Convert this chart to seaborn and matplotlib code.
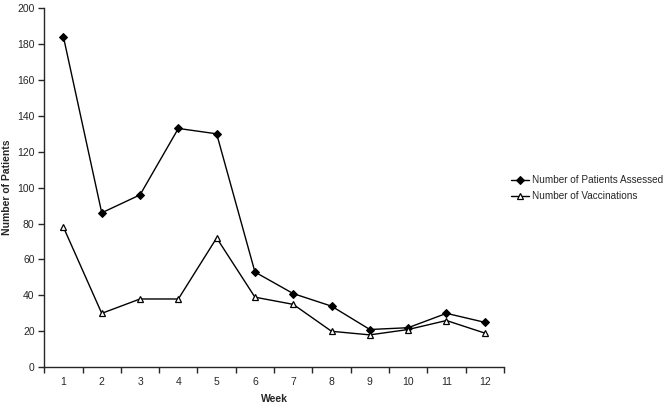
import seaborn as sns
import matplotlib.pyplot as plt
import numpy as np
import pandas as pd

weeks = list(range(1, 13))
patients_assessed = [184, 86, 96, 133, 130, 53, 41, 34, 21, 22, 30, 25]
vaccinations = [78, 30, 38, 38, 72, 39, 35, 20, 18, 21, 26, 19]


def create_line_plot():
    sns.set_style("ticks")
    plt.rcParams['font.family'] = ['Liberation Sans', 'DejaVu Sans']

    fig = plt.figure(figsize=(6.71, 4.08), dpi=100)
    ax = fig.add_axes([0.066, 0.100, 0.685, 0.880])

    sns.lineplot(x=weeks, y=patients_assessed, ax=ax, color="black", lw=1,
                 marker="D", markersize=4, markerfacecolor="black",
                 markeredgecolor="black", label="Number of Patients Assessed")
    sns.lineplot(x=weeks, y=vaccinations, ax=ax, color="black", lw=1,
                 marker="^", markersize=5, markerfacecolor="white",
                 markeredgecolor="black", markeredgewidth=0.9,
                 label="Number of Vaccinations")

    ax.set_xlim(0.5, 12.5)
    ax.set_ylim(0, 200)
    ax.set_xticks(weeks)
    ax.set_xticks(np.arange(0.5, 13, 1), minor=True)
    ax.set_yticks(np.arange(0, 201, 20))
    ax.tick_params(axis="x", which="major", length=0, labelsize=7.5, pad=7)
    ax.tick_params(axis="x", which="minor", length=4, width=1, direction="out")
    ax.tick_params(axis="y", length=4, width=1, labelsize=7.5, direction="out", pad=3)

    for s in ["top", "right"]:
        ax.spines[s].set_visible(False)
    for s in ["left", "bottom"]:
        ax.spines[s].set_linewidth(1)

    ax.set_xlabel("Week", fontsize=7.5, fontweight="bold", labelpad=5)
    ax.set_ylabel("Number of Patients", fontsize=7.5, fontweight="bold", labelpad=4)

    ax.legend(loc="upper left", bbox_to_anchor=(1.01, 0.54), frameon=False,
              fontsize=7.2, handlelength=1.8, handletextpad=0.3, labelspacing=0.6,
              borderaxespad=0, borderpad=0.2)

    fig.savefig("out.png", dpi=100)


if __name__ == '__main__':
    create_line_plot()
